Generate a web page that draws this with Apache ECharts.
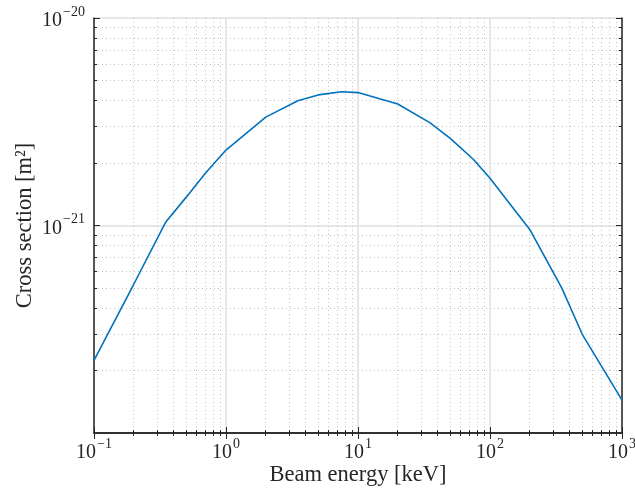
<!DOCTYPE html>
<html>
<head>
<meta charset="utf-8">
<script src="https://cdn.jsdelivr.net/npm/echarts@6/dist/echarts.min.js"></script>
<style>html,body{margin:0;padding:0;background:#fff}#c{width:635px;height:490px}</style>
</head>
<body>
<div id="c"></div>
<script>
const energy = [0.1, 0.2, 0.35, 0.5, 0.7, 1, 2, 3.5, 5, 7.5, 10, 20, 35, 50, 75, 100, 200, 350, 500, 1000];
const crossSection = [2.24e-22, 5.21e-22, 1.04e-21, 1.37e-21, 1.79e-21, 2.31e-21, 3.33e-21, 3.99e-21, 4.26e-21, 4.41e-21, 4.37e-21, 3.85e-21, 3.13e-21, 2.63e-21, 2.08e-21, 1.69e-21, 9.57e-22, 4.99e-22, 2.99e-22, 1.44e-22];
const xMinorTicks = [0.2,0.3,0.4,0.5,0.6,0.7,0.8,0.9,2,3,4,5,6,7,8,9,20,30,40,50,60,70,80,90,200,300,400,500,600,700,800,900];
const yMinorTicks = [2e-22,3e-22,4e-22,5e-22,6e-22,7e-22,8e-22,9e-22,2e-21,3e-21,4e-21,5e-21,6e-21,7e-21,8e-21,9e-21];
const xRange = [0.1, 1000];
const yRange = [1e-22, 1e-20];
const xTitle = 'Beam energy [keV]';
const yTitle = 'Cross section [m²]';

const FONT = '"Liberation Serif", "Times New Roman", serif';
const AX = '#262626';
function expLabel(v) {
  const e = Math.round(Math.log10(v));
  const s = e < 0 ? '\u2212' + Math.abs(e) : String(e);
  return '{b|10}{s|' + s + '}';
}
const rich = {
  b: {fontFamily: FONT, fontSize: 20, lineHeight: 26, verticalAlign: 'bottom', color: AX},
  s: {fontFamily: FONT, fontSize: 14, lineHeight: 14, verticalAlign: 'top', color: AX, padding: [0, 0, 0, 1]}
};
function logAxis(range, position, opts) {
  return Object.assign({
    type: 'log', logBase: 10, min: range[0], max: range[1], position: position,
    axisLine: {show: true, lineStyle: {color: AX, width: 1.5}},
    axisTick: {show: true, inside: true, length: 6, lineStyle: {color: AX, width: 1}},
    axisLabel: {show: false},
    splitLine: {show: false},
    minorTick: {show: false}
  }, opts);
}
const chart = echarts.init(document.getElementById('c'), null, {renderer: 'canvas'});
const opt = {
  animation: false,
  backgroundColor: '#fff',
  grid: {left: 94, top: 18, width: 528, height: 415, containLabel: false, outerBoundsMode: 'none'},
  xAxis: [
    logAxis(xRange, 'bottom', {
      name: xTitle, nameLocation: 'middle', nameGap: 31, nameMoveOverlap: false,
      nameTextStyle: {fontFamily: FONT, fontSize: 22.5, color: AX},
      axisLabel: {show: true, margin: 4, formatter: expLabel, rich: rich, showMinLabel: true, showMaxLabel: true, hideOverlap: false},
      splitLine: {show: true, lineStyle: {color: '#dfdfdf', width: 1.5}}
    }),
    logAxis(xRange, 'bottom', {
      axisLine: {show: false},
      axisTick: {show: true, inside: true, length: 3, customValues: xMinorTicks, lineStyle: {color: AX, width: 1}},
      splitLine: {show: true, lineStyle: {color: '#c4c4c4', width: 1, type: [1, 3]}}
    }),
    logAxis(xRange, 'top', {}),
    logAxis(xRange, 'top', {
      axisLine: {show: false},
      axisTick: {show: true, inside: true, length: 3, customValues: xMinorTicks, lineStyle: {color: AX, width: 1}}
    })
  ],
  yAxis: [
    logAxis(yRange, 'left', {
      name: yTitle, nameLocation: 'middle', nameGap: 57, nameMoveOverlap: false,
      nameTextStyle: {fontFamily: FONT, fontSize: 22.5, color: AX},
      axisLabel: {show: true, margin: 9, formatter: expLabel, rich: rich, showMinLabel: true, showMaxLabel: true, hideOverlap: false},
      splitLine: {show: true, lineStyle: {color: '#dfdfdf', width: 1.5}}
    }),
    logAxis(yRange, 'left', {
      axisLine: {show: false},
      axisTick: {show: true, inside: true, length: 3, customValues: yMinorTicks, lineStyle: {color: AX, width: 1}},
      splitLine: {show: true, lineStyle: {color: '#c4c4c4', width: 1, type: [1, 3]}}
    }),
    logAxis(yRange, 'right', {}),
    logAxis(yRange, 'right', {
      axisLine: {show: false},
      axisTick: {show: true, inside: true, length: 3, customValues: yMinorTicks, lineStyle: {color: AX, width: 1}}
    })
  ],
  series: [{
    type: 'line', xAxisIndex: 0, yAxisIndex: 0,
    data: energy.map((e, i) => [e, crossSection[i]]),
    showSymbol: false, symbol: 'none',
    lineStyle: {color: '#0072BD', width: 1.6},
    z: 10
  }]
};
chart.setOption(opt);
</script>
</body>
</html>
